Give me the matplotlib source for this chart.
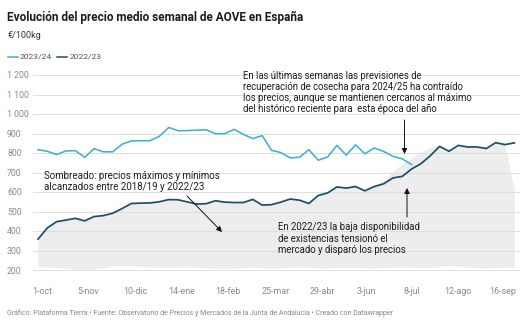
import matplotlib
matplotlib.use("Agg")
import matplotlib.pyplot as plt
import numpy as np

plt.rcParams['font.family'] = ['Roboto', 'DejaVu Sans']

# ---------------- data ----------------
title = "Evolución del precio medio semanal de AOVE en España"
subtitle = "€/100kg"
series_names = ["2023/24", "2022/23"]
x_labels = ["1-oct", "5-nov", "10-dic", "14-ene", "18-feb", "25-mar",
            "29-abr", "3-jun", "8-jul", "12-ago", "16-sep"]
x_label_weeks = [0.4, 5.35, 10.45, 15.4, 20.3, 25.45, 30.4, 35.2, 40.0, 45.0, 49.7]
y_ticks = [200, 300, 400, 500, 600, 700, 800, 900, 1000, 1100, 1200]

price_2324 = [817, 809, 792, 811, 812, 778, 822, 806, 806, 845,
              862, 863, 863, 886, 931, 914, 915, 917, 919, 899,
              899, 921, 895, 874, 889, 814, 802, 775, 778, 817,
              763, 779, 839, 789, 842, 796, 826, 808, 783, 770,
              741]
price_2223 = [358, 416, 448, 456, 465, 452, 474, 479, 491, 515,
              541, 543, 544, 550, 561, 560, 549, 538, 540, 555,
              548, 546, 546, 562, 533, 535, 548, 564, 558, 541,
              582, 595, 626, 620, 628, 606, 628, 642, 672, 680,
              718, 745, 786, 834, 809, 839, 831, 831, 823, 853,
              843, 852]
hist_max = [358, 416, 448, 456, 465, 452, 474, 479, 491, 515,
            541, 543, 544, 550, 561, 560, 549, 538, 540, 555,
            548, 546, 546, 562, 533, 535, 548, 564, 558, 541,
            582, 595, 626, 620, 628, 606, 628, 660, 705, 745,
            775, 805, 828, 836, 809, 839, 831, 831, 823, 853,
            843, 610]
hist_min = [218, 216, 212, 208, 205, 203, 206, 212, 220, 222,
            222, 219, 216, 215, 214, 216, 218, 214, 210, 208,
            207, 208, 212, 215, 212, 209, 210, 214, 216, 214,
            211, 210, 212, 214, 213, 211, 210, 212, 214, 216,
            214, 213, 214, 218, 222, 220, 216, 212, 210, 212,
            215, 215]

note_shade = "Sombreado: precios máximos y mínimos\nalcanzados entre 2018/19 y 2022/23"
note_top = ("En las últimas semanas las previsiones de\n"
            "recuperación de cosecha para 2024/25 ha contraído\n"
            "los precios, aunque se mantienen cercanos al máximo\n"
            "del histórico reciente para  esta época del año")
note_bottom = ("En 2022/23 la baja disponibilidad\n"
               "de existencias tensionó el\n"
               "mercado y disparó los precios")
footer = ("Gráfico: Plataforma Tierra • Fuente: Observatorio de Precios y Mercados "
          "de la Junta de Andalucía • Creado con Datawrapper")

# ---------------- style ----------------
C_LIGHT = "#3fb1d1"
C_DARK = "#1b4f66"
C_FILL = "#ededed"
C_GRID = "#dedede"
C_TICK = "#8a8a8a"
W, H = 528, 324

fig = plt.figure(figsize=(W / 100, H / 100), dpi=100)
fig.patch.set_facecolor("white")

def fx(px):
    return px / W

def fy(py):
    return 1 - py / H

# axes placement (pixels)
ax_l, ax_r = 33, 520
ax_t, ax_b = 71.1, 273.9
ax = fig.add_axes([fx(ax_l), fy(ax_b), (ax_r - ax_l) / W, (ax_b - ax_t) / H])
ax.set_facecolor("none")

wk_per_px = 1 / 9.34
ax.set_xlim((ax_l - 38) * wk_per_px, (ax_r - 38) * wk_per_px)
ax.set_ylim(180, 1220)

w_all = np.arange(len(price_2223))
w_cur = np.arange(len(price_2324))

ax.fill_between(w_all, hist_min, hist_max, color=C_FILL, lw=0, zorder=1)
ax.set_yticks(y_ticks)
ax.grid(axis="y", color=C_GRID, lw=0.7, zorder=2)
ax.set_axisbelow(False)
for gl in ax.get_ygridlines():
    gl.set_zorder(2)

ax.plot(w_all, price_2223, color=C_DARK, lw=1.25, zorder=4, solid_joinstyle="round")
ax.plot(w_cur, price_2324, color=C_LIGHT, lw=1.15, zorder=4, solid_joinstyle="round")

ax.set_yticklabels([f"{v:,}".replace(",", " ") for v in y_ticks],
                   fontsize=6.3, color=C_TICK, ha="left")
ax.tick_params(axis="y", length=0, pad=26 * 0.72)
ax.set_xticks(x_label_weeks)
ax.set_xticklabels(x_labels, fontsize=6.4, color=C_TICK)
ax.tick_params(axis="x", length=0, pad=9.5)
for s in ax.spines.values():
    s.set_visible(False)

# ---------------- texts ----------------
fig.text(fx(7), fy(17), title, fontsize=8.5, fontweight="bold", color="#1d1d1d",
         va="center", ha="left")
fig.text(fx(7.5), fy(35), subtitle, fontsize=6.5, color="#333333", va="center")

# legend
fig.add_artist(plt.Line2D([fx(8), fx(18)], [fy(56.5)] * 2, color=C_LIGHT, lw=1.1))
fig.text(fx(20), fy(56.5), series_names[0], fontsize=6.1, color="#555555", va="center")
fig.add_artist(plt.Line2D([fx(57), fx(67)], [fy(56.5)] * 2, color=C_DARK, lw=1.1))
fig.text(fx(70), fy(56.5), series_names[1], fontsize=6.1, color="#555555", va="center")

fig.text(fx(44), fy(181.5), note_shade, fontsize=7, color="#1d1d1d",
         va="center", ha="left", linespacing=1.15)
fig.text(fx(243), fy(92.5), note_top, fontsize=6.85, color="#1d1d1d",
         va="center", ha="left", linespacing=1.12)
fig.text(fx(278), fy(238.5), note_bottom, fontsize=6.9, color="#1d1d1d",
         va="center", ha="left", linespacing=1.15)

def arrow(x0, y0, x1, y1):
    fig.add_artist(matplotlib.patches.FancyArrowPatch(
        (fx(x0), fy(y0)), (fx(x1), fy(y1)), transform=fig.transFigure,
        arrowstyle="-|>,head_length=3.2,head_width=1.6", color="#111111",
        lw=0.7, shrinkA=0, shrinkB=0, zorder=10))

arrow(187, 196, 222, 232)
arrow(404.5, 120, 404.5, 154)
arrow(407, 217, 407, 188)

fig.text(fx(7), fy(313.5), footer, fontsize=5.0, color="#888888", va="center")

fig.savefig("out.png", dpi=100, facecolor="white")
